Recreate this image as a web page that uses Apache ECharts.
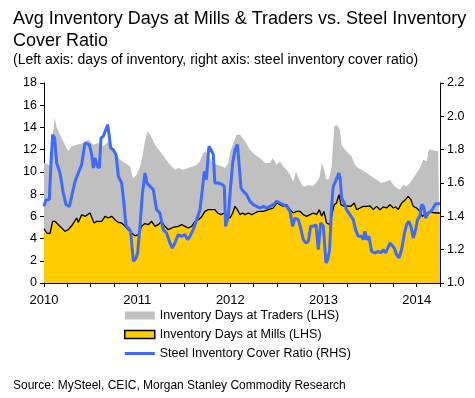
<!DOCTYPE html>
<html>
<head>
<meta charset="utf-8">
<script src="https://cdn.jsdelivr.net/npm/echarts@6/dist/echarts.min.js"></script>
<style>
  html, body { margin: 0; padding: 0; background: #fff; }
  #chart { width: 475px; height: 398px; }
</style>
</head>
<body>
<div id="chart"></div>
<script>
// x values are decimal years
// grey area: top of the traders band (stacked on top of mills), days
const tradersTopDays = [
  [2010.000, 10.8], [2010.064, 10.6], [2010.093, 13.2], [2010.114, 14.85], [2010.136, 14.0],
  [2010.172, 13.35], [2010.225, 12.45], [2010.261, 11.85], [2010.297, 12.3], [2010.351, 12.45],
  [2010.422, 12.6], [2010.476, 12.9], [2010.529, 12.45], [2010.583, 12.6], [2010.637, 12.3],
  [2010.690, 12.75], [2010.726, 12.3], [2010.762, 11.85], [2010.816, 11.1], [2010.869, 10.8],
  [2010.923, 10.5], [2010.955, 9.4], [2010.990, 9.7], [2011.030, 10.4], [2011.055, 11.4],
  [2011.083, 12.75], [2011.112, 13.65], [2011.148, 13.2], [2011.191, 12.45], [2011.244, 11.85],
  [2011.298, 11.25], [2011.352, 10.65], [2011.405, 10.2], [2011.441, 10.35], [2011.495, 10.2],
  [2011.548, 10.35], [2011.602, 10.5], [2011.638, 10.65], [2011.674, 10.95], [2011.709, 11.7],
  [2011.734, 11.85], [2011.763, 11.55], [2011.799, 10.95], [2011.852, 10.65], [2011.906, 10.5],
  [2011.942, 10.35], [2011.978, 10.8], [2012.000, 11.85], [2012.032, 12.6], [2012.068, 13.35],
  [2012.103, 13.35], [2012.157, 12.75], [2012.211, 12.0], [2012.264, 11.55], [2012.318, 11.25],
  [2012.372, 10.8], [2012.425, 10.8], [2012.454, 11.25], [2012.497, 10.65], [2012.533, 10.95],
  [2012.568, 10.5], [2012.604, 10.2], [2012.640, 9.75], [2012.676, 9.15], [2012.704, 10.05],
  [2012.740, 9.3], [2012.776, 8.7], [2012.812, 8.7], [2012.847, 8.85], [2012.883, 8.7],
  [2012.919, 9.0], [2012.955, 9.45], [2012.983, 10.8], [2013.005, 10.2], [2013.033, 9.3],
  [2013.060, 9.4], [2013.087, 10.5], [2013.115, 14.1], [2013.140, 14.25], [2013.176, 13.8],
  [2013.194, 12.45], [2013.230, 12.0], [2013.265, 11.7], [2013.301, 11.4], [2013.337, 10.65],
  [2013.373, 10.35], [2013.408, 10.2], [2013.462, 9.9], [2013.516, 9.6], [2013.569, 9.3],
  [2013.623, 9.0], [2013.677, 9.15], [2013.713, 9.3], [2013.748, 8.85], [2013.784, 8.55],
  [2013.820, 8.4], [2013.856, 8.85], [2013.891, 8.7], [2013.927, 9.0], [2013.963, 9.45],
  [2013.999, 9.9], [2014.034, 10.35], [2014.070, 11.1], [2014.106, 10.95], [2014.131, 12.0],
  [2014.177, 11.95], [2014.231, 11.85], [2014.249, 11.85]
];

const millsDays = [
  [2010.000, 4.9], [2010.029, 4.5], [2010.064, 4.45], [2010.093, 5.55], [2010.118, 5.55],
  [2010.154, 5.25], [2010.190, 4.95], [2010.225, 4.65], [2010.261, 4.8], [2010.297, 5.15],
  [2010.351, 5.85], [2010.368, 5.45], [2010.404, 6.15], [2010.440, 6.0], [2010.494, 6.3],
  [2010.512, 6.4], [2010.537, 5.4], [2010.565, 5.55], [2010.619, 5.55], [2010.655, 6.0],
  [2010.690, 5.85], [2010.726, 6.0], [2010.762, 5.7], [2010.798, 5.45], [2010.833, 5.4],
  [2010.869, 5.1], [2010.905, 4.8], [2010.941, 4.5], [2010.977, 4.25], [2011.012, 4.35],
  [2011.048, 5.1], [2011.083, 5.35], [2011.119, 5.25], [2011.155, 5.55], [2011.191, 5.1],
  [2011.226, 5.25], [2011.262, 5.55], [2011.298, 5.1], [2011.334, 4.8], [2011.369, 4.95],
  [2011.405, 5.05], [2011.441, 5.1], [2011.477, 5.25], [2011.513, 5.1], [2011.548, 4.95],
  [2011.584, 5.1], [2011.620, 5.55], [2011.656, 5.7], [2011.691, 5.95], [2011.727, 6.45],
  [2011.763, 6.6], [2011.799, 6.6], [2011.834, 6.6], [2011.863, 6.3], [2011.899, 6.15],
  [2011.935, 6.3], [2011.970, 6.0], [2011.996, 5.85], [2012.025, 6.3], [2012.050, 6.9],
  [2012.075, 6.6], [2012.103, 6.15], [2012.132, 6.3], [2012.157, 6.15], [2012.193, 6.3],
  [2012.229, 6.15], [2012.264, 6.3], [2012.300, 6.45], [2012.354, 6.45], [2012.407, 6.6],
  [2012.461, 6.75], [2012.497, 7.2], [2012.533, 7.05], [2012.568, 6.9], [2012.604, 7.05],
  [2012.640, 6.6], [2012.676, 6.3], [2012.711, 6.45], [2012.747, 6.45], [2012.783, 6.15],
  [2012.819, 6.0], [2012.854, 6.15], [2012.890, 6.3], [2012.926, 6.15], [2012.955, 6.6],
  [2012.980, 6.0], [2013.005, 6.45], [2013.033, 5.4], [2013.069, 5.25], [2013.094, 6.3],
  [2013.115, 7.05], [2013.140, 7.2], [2013.165, 7.95], [2013.187, 7.05], [2013.222, 6.9],
  [2013.258, 6.95], [2013.294, 6.9], [2013.330, 7.2], [2013.355, 6.6], [2013.391, 6.75],
  [2013.426, 6.9], [2013.462, 6.9], [2013.498, 6.95], [2013.534, 6.6], [2013.569, 6.9],
  [2013.605, 6.6], [2013.641, 6.85], [2013.677, 6.75], [2013.713, 7.05], [2013.748, 6.75],
  [2013.773, 6.85], [2013.802, 6.6], [2013.838, 7.2], [2013.873, 7.45], [2013.909, 7.8],
  [2013.938, 7.5], [2013.963, 6.9], [2013.999, 6.75], [2014.034, 6.45], [2014.059, 6.0],
  [2014.088, 6.15], [2014.124, 6.35], [2014.160, 6.35], [2014.213, 6.3], [2014.249, 6.3]
];

// right axis
const coverRatio = [
  [2010.000, 1.46], [2010.021, 1.50], [2010.057, 1.50], [2010.075, 1.72], [2010.093, 1.89],
  [2010.114, 1.87], [2010.136, 1.72], [2010.172, 1.66], [2010.207, 1.54], [2010.236, 1.47],
  [2010.272, 1.46], [2010.297, 1.52], [2010.333, 1.61], [2010.368, 1.66], [2010.404, 1.71],
  [2010.440, 1.84], [2010.486, 1.83], [2010.512, 1.77], [2010.529, 1.69], [2010.547, 1.75],
  [2010.572, 1.70], [2010.594, 1.69], [2010.612, 1.87], [2010.637, 1.88], [2010.655, 1.87],
  [2010.683, 1.95], [2010.701, 1.88], [2010.715, 1.81], [2010.744, 1.80], [2010.773, 1.77],
  [2010.798, 1.64], [2010.833, 1.60], [2010.858, 1.48], [2010.880, 1.34], [2010.905, 1.33],
  [2010.930, 1.31], [2010.959, 1.13], [2010.987, 1.15], [2011.005, 1.18], [2011.030, 1.34],
  [2011.055, 1.53], [2011.083, 1.66], [2011.105, 1.60], [2011.137, 1.58], [2011.173, 1.56],
  [2011.209, 1.44], [2011.244, 1.42], [2011.280, 1.32], [2011.316, 1.30], [2011.352, 1.24],
  [2011.377, 1.21], [2011.405, 1.24], [2011.441, 1.29], [2011.477, 1.28], [2011.513, 1.29],
  [2011.541, 1.26], [2011.566, 1.28], [2011.602, 1.32], [2011.638, 1.38], [2011.674, 1.44],
  [2011.699, 1.56], [2011.720, 1.67], [2011.742, 1.62], [2011.770, 1.82], [2011.792, 1.80],
  [2011.817, 1.77], [2011.834, 1.60], [2011.870, 1.60], [2011.913, 1.59], [2011.935, 1.58],
  [2011.949, 1.34], [2011.978, 1.40], [2012.000, 1.56], [2012.025, 1.72], [2012.050, 1.80],
  [2012.075, 1.83], [2012.096, 1.70], [2012.114, 1.57], [2012.139, 1.55], [2012.175, 1.53],
  [2012.211, 1.49], [2012.246, 1.47], [2012.282, 1.46], [2012.318, 1.45], [2012.354, 1.46],
  [2012.389, 1.45], [2012.425, 1.46], [2012.461, 1.47], [2012.497, 1.49], [2012.533, 1.48],
  [2012.568, 1.47], [2012.604, 1.46], [2012.640, 1.43], [2012.668, 1.34], [2012.693, 1.39],
  [2012.729, 1.38], [2012.754, 1.33], [2012.783, 1.26], [2012.812, 1.24], [2012.837, 1.25],
  [2012.862, 1.34], [2012.890, 1.34], [2012.919, 1.35], [2012.944, 1.20], [2012.969, 1.36],
  [2012.998, 1.34], [2013.026, 1.12], [2013.045, 1.14], [2013.065, 1.20], [2013.087, 1.46],
  [2013.104, 1.58], [2013.129, 1.61], [2013.151, 1.64], [2013.165, 1.66], [2013.180, 1.62],
  [2013.194, 1.51], [2013.222, 1.48], [2013.247, 1.44], [2013.283, 1.41], [2013.319, 1.38],
  [2013.344, 1.32], [2013.373, 1.28], [2013.408, 1.28], [2013.426, 1.26], [2013.444, 1.31],
  [2013.462, 1.26], [2013.487, 1.28], [2013.516, 1.19], [2013.552, 1.18], [2013.587, 1.19],
  [2013.616, 1.18], [2013.641, 1.20], [2013.666, 1.18], [2013.687, 1.18], [2013.713, 1.24],
  [2013.730, 1.23], [2013.759, 1.21], [2013.784, 1.17], [2013.809, 1.15], [2013.838, 1.20],
  [2013.866, 1.29], [2013.891, 1.35], [2013.916, 1.37], [2013.938, 1.34], [2013.963, 1.27],
  [2013.988, 1.32], [2014.009, 1.38], [2014.034, 1.40], [2014.052, 1.47], [2014.074, 1.46],
  [2014.095, 1.39], [2014.124, 1.42], [2014.152, 1.43], [2014.177, 1.45], [2014.203, 1.476],
  [2014.249, 1.476]
];

const seriesNames = [
  'Inventory Days at Traders (LHS)',
  'Inventory Days at Mills (LHS)',
  'Steel Inventory Cover Ratio (RHS)'
];

const FONT = 'Liberation Sans, Arial, sans-serif';

const chart = echarts.init(document.getElementById('chart'), null, {renderer: 'canvas'});

chart.setOption({
  animation: false,
  textStyle: {fontFamily: FONT},
  title: {
    text: 'Avg Inventory Days at Mills & Traders vs. Steel Inventory\nCover Ratio',
    subtext: '(Left axis: days of inventory, right axis: steel inventory cover ratio)',
    left: 8,
    top: 3,
    itemGap: 1,
    textStyle: {fontFamily: FONT, fontSize: 18, fontWeight: 'normal', color: '#000', lineHeight: 22},
    subtextStyle: {fontFamily: FONT, fontSize: 14, color: '#000'}
  },
  grid: {left: 44, right: 35, top: 83, bottom: 115},
  legend: {
    orient: 'vertical',
    left: 124,
    top: 309,
    padding: 0,
    itemWidth: 30,
    itemHeight: 8,
    itemGap: 6,
    textStyle: {fontFamily: FONT, fontSize: 12.5, color: '#000'},
    data: [
      {name: seriesNames[0], icon: 'rect', itemStyle: {color: '#C0C0C0', borderWidth: 0}},
      {name: seriesNames[1], icon: 'rect', itemStyle: {color: '#FFCC00', borderColor: '#000', borderWidth: 1.5}},
      {name: seriesNames[2], icon: 'path://M0 0H30V3H0Z', itemStyle: {color: '#3D6BFF', borderWidth: 0}}
    ]
  },
  graphic: [{
    type: 'text',
    left: 13,
    top: 380,
    style: {text: 'Source: MySteel, CEIC, Morgan Stanley Commodity Research', font: '12px ' + FONT, fill: '#000'}
  }],
  xAxis: {
    type: 'value',
    min: 2010,
    max: 2014.25,
    interval: 0.25,
    splitLine: {show: false},
    axisLine: {lineStyle: {color: '#000', width: 1}},
    axisTick: {show: true, length: 4, lineStyle: {color: '#000'}},
    axisLabel: {
      color: '#000',
      fontSize: 13,
      margin: 11,
      formatter: v => (Math.abs(v - Math.round(v)) < 1e-6 ? String(Math.round(v)) : '')
    }
  },
  yAxis: [{
    type: 'value',
    min: 0,
    max: 18,
    interval: 2,
    splitLine: {show: false},
    axisLine: {show: true, lineStyle: {color: '#000'}},
    axisTick: {show: true, length: 4, lineStyle: {color: '#000'}},
    axisLabel: {color: '#000', fontSize: 12.5, margin: 7}
  }, {
    type: 'value',
    min: 1.0,
    max: 2.2,
    interval: 0.2,
    position: 'right',
    splitLine: {show: false},
    axisLine: {show: true, lineStyle: {color: '#000'}},
    axisTick: {show: true, length: 4, lineStyle: {color: '#000'}},
    axisLabel: {color: '#000', fontSize: 12.5, margin: 7, formatter: v => v.toFixed(1)}
  }],
  series: [{
    name: seriesNames[0],
    type: 'line',
    data: tradersTopDays,
    symbol: 'none',
    lineStyle: {width: 0},
    itemStyle: {color: '#C0C0C0'},
    areaStyle: {color: '#C0C0C0', opacity: 1},
    z: 1
  }, {
    name: seriesNames[1],
    type: 'line',
    data: millsDays,
    symbol: 'none',
    lineStyle: {color: '#000', width: 1.3},
    itemStyle: {color: '#FFCC00'},
    areaStyle: {color: '#FFCC00', opacity: 1},
    z: 2
  }, {
    name: seriesNames[2],
    type: 'line',
    yAxisIndex: 1,
    data: coverRatio,
    symbol: 'none',
    lineStyle: {color: '#3D6BFF', width: 3},
    itemStyle: {color: '#3D6BFF'},
    z: 3
  }]
});
</script>
</body>
</html>
